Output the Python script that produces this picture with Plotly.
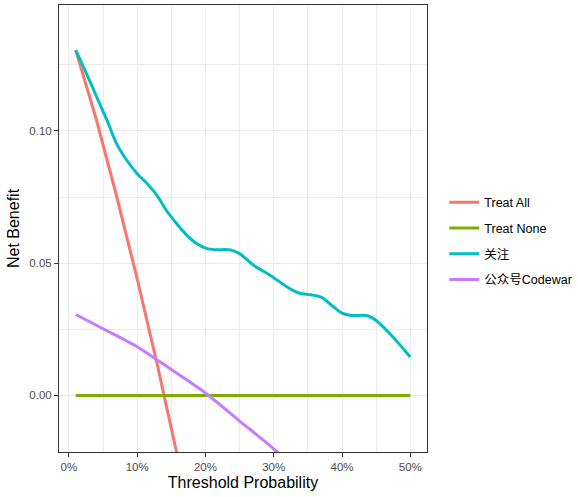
import plotly.graph_objects as go

# Threshold probabilities and net benefit values
treat_all_x = [0.01, 0.04, 0.07, 0.10, 0.13, 0.16]
treat_all_y = [0.1306, 0.1045, 0.0752, 0.0441, 0.0110, -0.0242]

treat_none_x = [0.01, 0.50]
treat_none_y = [0.0, 0.0]

guanzhu_x = [0.010, 0.026, 0.041, 0.056, 0.070, 0.085, 0.100, 0.114, 0.129, 0.143,
             0.158, 0.173, 0.187, 0.202, 0.214, 0.237, 0.250, 0.271, 0.290, 0.300,
             0.324, 0.338, 0.350, 0.370, 0.387, 0.400, 0.414, 0.436, 0.450, 0.475, 0.500]
guanzhu_y = [0.1305, 0.1215, 0.1127, 0.1039, 0.0951, 0.0888, 0.0838, 0.0802, 0.0756, 0.0699,
             0.0649, 0.0605, 0.0574, 0.0555, 0.0551, 0.0550, 0.0536, 0.0491, 0.0462, 0.0445,
             0.0403, 0.0386, 0.0382, 0.0371, 0.0336, 0.0311, 0.0302, 0.0302, 0.0283, 0.0220, 0.0145]

codewar_x = [0.01, 0.05, 0.10, 0.127, 0.15, 0.20, 0.25, 0.30, 0.35, 0.40]
codewar_y = [0.0306, 0.0252, 0.0184, 0.0138, 0.0098, 0.0009, -0.0097, -0.0202, -0.0330, -0.0470]

names = ["Treat All", "Treat None", "关注", "公众号Codewar"]
colors = ["#F8766D", "#7CAE00", "#00BFC4", "#C77CFF"]

FONT = "Liberation Sans, Arial, Noto Sans CJK SC, sans-serif"

fig = go.Figure()
series = [(treat_all_x, treat_all_y, "linear"),
          (treat_none_x, treat_none_y, "linear"),
          (guanzhu_x, guanzhu_y, "spline"),
          (codewar_x, codewar_y, "spline")]
for (xs, ys, shape), name, col in zip(series, names, colors):
    fig.add_trace(go.Scatter(x=xs, y=ys, mode="lines", name=name,
                             legendgroup=name,
                             line=dict(color=col, width=3, shape=shape,
                                       smoothing=0.8 if shape == "spline" else None)))

axis_common = dict(
    showline=True, linecolor="#333333", linewidth=1, mirror=True,
    ticks="outside", ticklen=4, tickcolor="#333333", tickwidth=1,
    showgrid=True, gridcolor="#EBEBEB", gridwidth=1,
    zeroline=False, automargin=False,
    tickfont=dict(family=FONT, size=11.5, color="#4D4D4D"),
)

fig.update_layout(
    width=578, height=497,
    paper_bgcolor="white", plot_bgcolor="white",
    margin=dict(l=59, r=151, t=5, b=45, autoexpand=False),
    font=dict(family=FONT),
    xaxis=dict(range=[-0.0145, 0.5245], tick0=0, dtick=0.1, tickformat=".0%",
               minor=dict(dtick=0.05, tick0=0, showgrid=True, gridcolor="#EBEBEB", gridwidth=0.5),
               title=dict(text="Threshold Probability", font=dict(family=FONT, size=16, color="black"),
                          standoff=5),
               **axis_common),
    yaxis=dict(range=[-0.0214, 0.1476], tick0=0, dtick=0.05, tickformat=".2f",
               minor=dict(dtick=0.025, tick0=0, showgrid=True, gridcolor="#EBEBEB", gridwidth=0.5),
               title=dict(text="Net Benefit", font=dict(family=FONT, size=16, color="black"),
                          standoff=5),
               **axis_common),
    legend=dict(x=1.047, xanchor="left", y=0.472, yanchor="middle",
                font=dict(family=FONT, size=12.5, color="black"),
                tracegroupgap=6.5, bgcolor="rgba(0,0,0,0)"),
    showlegend=True,
)

fig.write_html("out.html", config={"displayModeBar": False},
               post_script="document.body.style.margin='0px';")
